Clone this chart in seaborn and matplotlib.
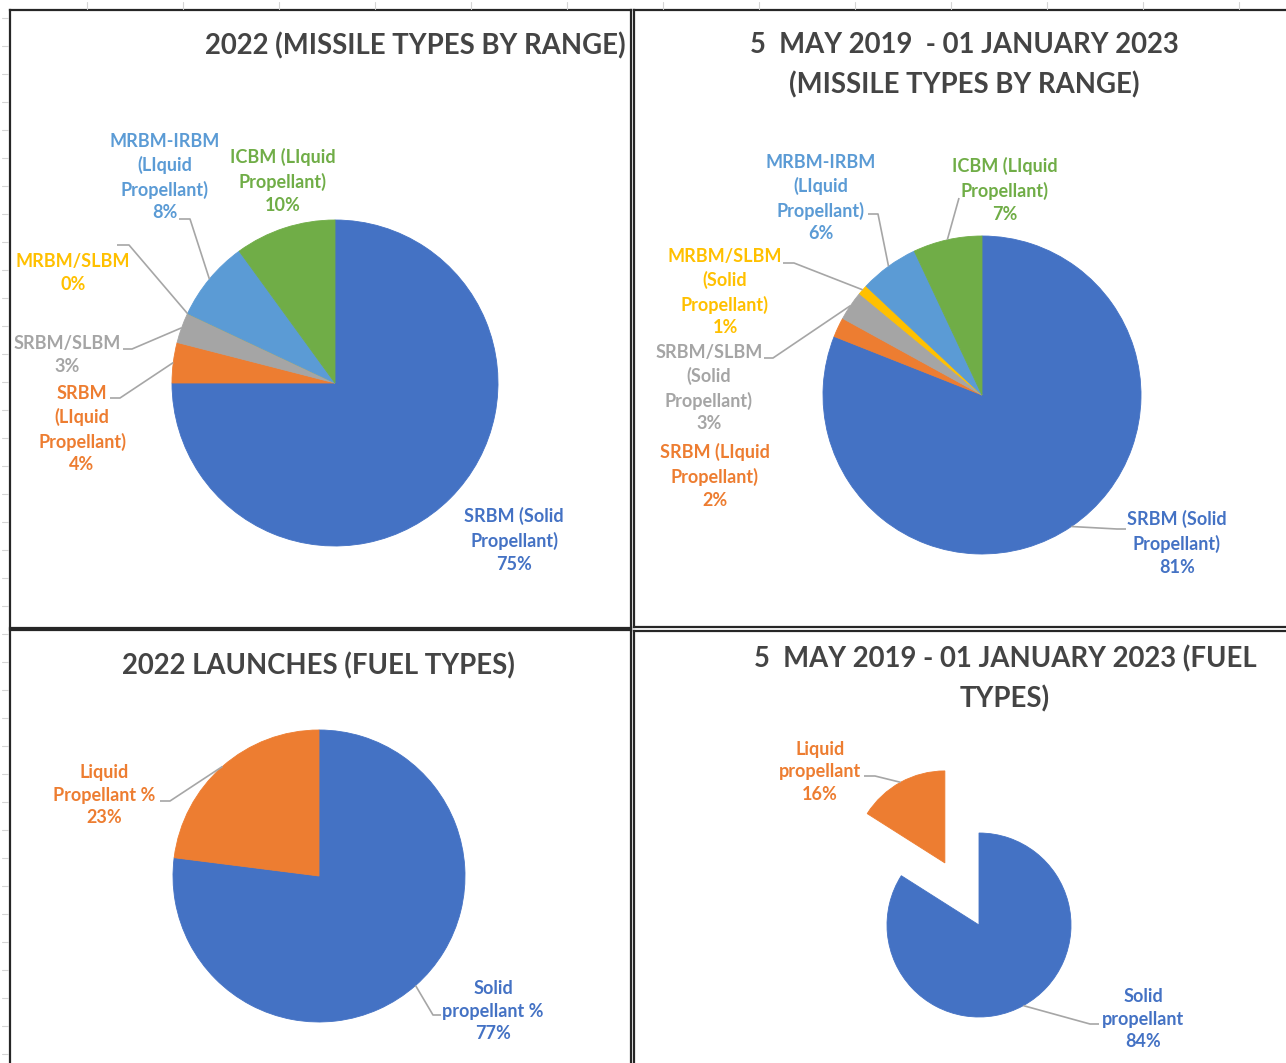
import numpy as np
import matplotlib
matplotlib.use("Agg")
import matplotlib.pyplot as plt
import seaborn as sns

# ---- data -------------------------------------------------------------
range_categories = [
    "SRBM (Solid\nPropellant)",
    "SRBM\n(LIquid\nPropellant)",
    "SRBM/SLBM",
    "MRBM/SLBM",
    "MRBM-IRBM\n(LIquid\nPropellant)",
    "ICBM (LIquid\nPropellant)",
]
range_categories_long = [
    "SRBM (Solid\nPropellant)",
    "SRBM (LIquid\nPropellant)",
    "SRBM/SLBM\n(Solid\nPropellant)",
    "MRBM/SLBM\n(Solid\nPropellant)",
    "MRBM-IRBM\n(LIquid\nPropellant)",
    "ICBM (LIquid\nPropellant)",
]
range_2022 = [75, 4, 3, 0, 8, 10]
range_2019_2023 = [81, 2, 3, 1, 6, 7]

fuel_categories_2022 = ["Solid\npropellant %", "Liquid\nPropellant %"]
fuel_2022 = [77, 23]
fuel_categories_all = ["Solid\npropellant", "Liquid\npropellant"]
fuel_2019_2023 = [84, 16]

titles = [
    "2022 (MISSILE TYPES BY RANGE)",
    "5  MAY 2019  - 01 JANUARY 2023\n(MISSILE TYPES BY RANGE)",
    "2022 LAUNCHES (FUEL TYPES)",
    "5  MAY 2019 - 01 JANUARY 2023 (FUEL\nTYPES)",
]

# ---- style ------------------------------------------------------------
sns.set_theme(style="white")
plt.rcParams["font.family"] = ["Lato", "DejaVu Sans"]
office = sns.color_palette(["#4472C4", "#ED7D31", "#A5A5A5", "#FFC000",
                            "#5B9BD5", "#70AD47"])
range_colors = office.as_hex()
fuel_colors = range_colors[:2]
TITLE_C = "#444444"
LEADER_C = "#A6A6A6"
LABEL_FS = 13
TITLE_FS = 19.8

W, H = 1286, 1063
fig = plt.figure(figsize=(W / 100, H / 100), dpi=100)
fig.patch.set_facecolor("white")


def panel(x0, y0, x1, y1, hide=()):
    """Axes spanning a pixel rectangle, with data units equal to pixels
    (y measured upward from the bottom of the figure)."""
    ax = fig.add_axes([x0 / W, 1 - y1 / H, (x1 - x0) / W, (y1 - y0) / H])
    ax.set_xlim(x0, x1)
    ax.set_ylim(H - y1, H - y0)
    ax.set_xticks([])
    ax.set_yticks([])
    for side, sp in ax.spines.items():
        sp.set_color("#262626")
        sp.set_linewidth(1.6)
        sp.set_visible(side not in hide)
    ax.set_facecolor("white")
    return ax


def draw_pie(ax, values, colors, cx, cy, r, explode=None):
    wedges, _ = ax.pie(values, colors=colors, startangle=90,
                       counterclock=False, radius=r, center=(cx, H - cy),
                       explode=explode, frame=True,
                       wedgeprops=dict(linewidth=0.6, edgecolor="white"))
    for w, c in zip(wedges, colors):
        w.set_edgecolor(c)
    return wedges


def edge_point(w):
    a = np.deg2rad(0.5 * (w.theta1 + w.theta2))
    cx, cy = w.center
    return cx + w.r * np.cos(a), cy + w.r * np.sin(a)


def label(ax, text, x, y, color, leader=None, wedge=None):
    ax.text(x, H - y, text, ha="center", va="center", color=color,
            fontsize=LABEL_FS, fontweight="bold", linespacing=1.42,
            clip_on=False)
    if leader is not None and wedge is not None:
        ex, ey = edge_point(wedge)
        xs = [p[0] for p in leader] + [ex]
        ys = [H - p[1] for p in leader] + [ey]
        ax.plot(xs, ys, color=LEADER_C, lw=1.2, solid_capstyle="butt",
                clip_on=False, zorder=3)


def title(ax, text, x, y):
    ax.text(x, H - y, text, ha="center", va="center", color=TITLE_C,
            fontsize=TITLE_FS, fontweight="bold", linespacing=1.6)


# ---- top left: 2022 by range -----------------------------------------
ax1 = panel(10, 10, 631, 628)
title(ax1, titles[0], 415, 46)
w1 = draw_pie(ax1, range_2022, range_colors, 335, 383, 163)
c = range_colors
label(ax1, range_categories[0] + f"\n{range_2022[0]}%", 514, 540, c[0])
label(ax1, range_categories[1] + f"\n{range_2022[1]}%", 82, 429, c[1],
      leader=[(110, 398), (120, 398)], wedge=w1[1])
label(ax1, range_categories[2] + f"\n{range_2022[2]}%", 67, 355, c[2],
      leader=[(123, 349), (132, 349)], wedge=w1[2])
label(ax1, range_categories[3] + f"\n{range_2022[3]}%", 73, 273, c[3],
      leader=[(117, 245), (129, 245)], wedge=w1[3])
label(ax1, range_categories[4] + f"\n{range_2022[4]}%", 165, 177, c[4],
      leader=[(179, 219), (190, 219)], wedge=w1[4])
label(ax1, range_categories[5] + f"\n{range_2022[5]}%", 283, 181, c[5])

# ---- top right: 2019-2023 by range -----------------------------------
ax2 = panel(634, 10, W + 5, 627, hide=("right",))
title(ax2, titles[1], 964, 65)
w2 = draw_pie(ax2, range_2019_2023, range_colors, 982, 395, 159)
d = range_2019_2023
label(ax2, range_categories_long[0] + f"\n{d[0]}%", 1177, 543, c[0],
      leader=[(1126, 529), (1117, 529)], wedge=w2[0])
label(ax2, range_categories_long[1] + f"\n{d[1]}%", 715, 476, c[1])
label(ax2, range_categories_long[2] + f"\n{d[2]}%", 709, 388, c[2],
      leader=[(764, 358), (773, 358)], wedge=w2[2])
label(ax2, range_categories_long[3] + f"\n{d[3]}%", 725, 292, c[3],
      leader=[(783, 263), (794, 263)], wedge=w2[3])
label(ax2, range_categories_long[4] + f"\n{d[4]}%", 821, 198, c[4],
      leader=[(868, 214), (878, 214)], wedge=w2[4])
label(ax2, range_categories_long[5] + f"\n{d[5]}%", 1005, 190, c[5],
      leader=[(959, 198)], wedge=w2[5])

# ---- bottom left: 2022 by fuel ---------------------------------------
ax3 = panel(10, 630, 631, H + 5, hide=("bottom",))
title(ax3, titles[2], 318, 666)
w3 = draw_pie(ax3, fuel_2022, fuel_colors, 319, 876, 146)
label(ax3, fuel_categories_2022[0] + f"\n{fuel_2022[0]}%", 493, 1011,
      c[0], leader=[(441, 1015), (433, 1015)], wedge=w3[0])
label(ax3, fuel_categories_2022[1] + f"\n{fuel_2022[1]}%", 104, 795,
      c[1], leader=[(160, 801), (170, 801)], wedge=w3[1])

# ---- bottom right: 2019-2023 by fuel, liquid slice pulled out --------
ax4 = panel(634, 631, W + 5, H + 5, hide=("bottom", "right"))
title(ax4, titles[3], 1005, 679)
r4 = 92
w4 = draw_pie(ax4, fuel_2019_2023, fuel_colors, 979, 925, r4,
              explode=[0, 0.77 * r4])
label(ax4, fuel_categories_all[0] + f"\n{fuel_2019_2023[0]}%", 1143, 1019,
      c[0], leader=[(1099, 1024), (1090, 1024)], wedge=w4[0])
label(ax4, fuel_categories_all[1] + f"\n{fuel_2019_2023[1]}%", 820, 772,
      c[1], leader=[(864, 776), (875, 776)], wedge=w4[1])

# ---- faint worksheet grid ticks around the charts --------------------
for gx in range(87, W, 96):
    fig.add_artist(plt.Line2D([gx / W, gx / W], [1 - 2 / H, 1 - 9 / H],
                              color="#d4d4d4", lw=0.8))
for gy in range(18, H, 28):
    fig.add_artist(plt.Line2D([2 / W, 8 / W], [1 - gy / H, 1 - gy / H],
                              color="#d4d4d4", lw=0.8))

fig.savefig("out.png", dpi=100, facecolor="white")
